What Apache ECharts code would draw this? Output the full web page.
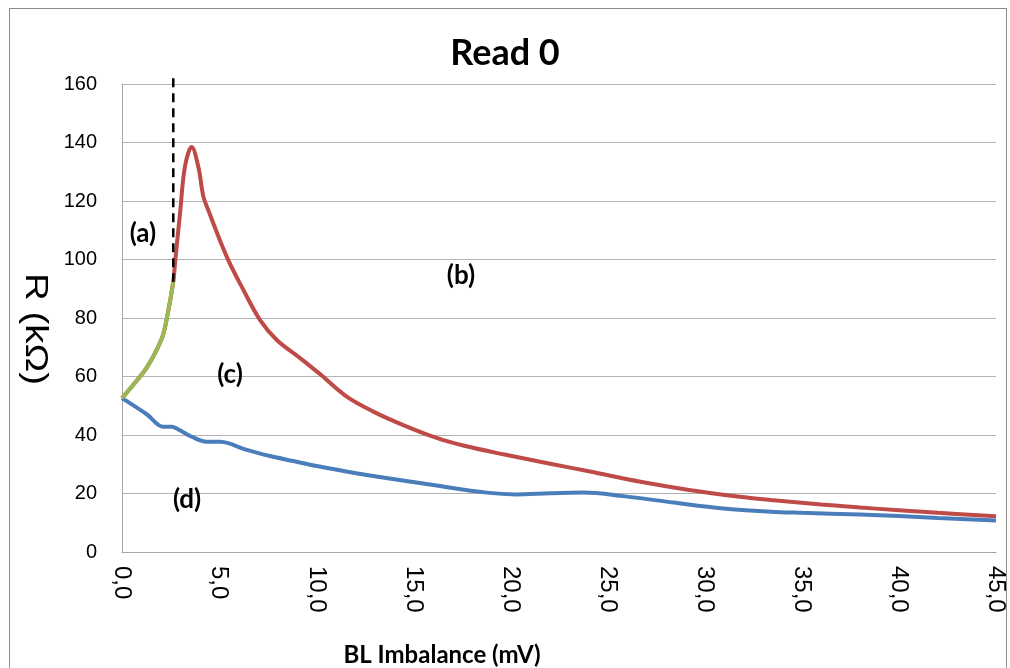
<!DOCTYPE html>
<html><head><meta charset="utf-8">
<script src="https://cdn.jsdelivr.net/npm/echarts@6/dist/echarts.min.js"></script>
<style>html,body{margin:0;padding:0;background:#fff}#c{width:1010px;height:668px}</style>
</head><body><div id="c"></div>
<script>
// x ticks
var xTicks = [0, 5, 10, 15, 20, 25, 30, 35, 40, 45];
var xTickLabels = ['0,0','5,0','10,0','15,0','20,0','25,0','30,0','35,0','40,0','45,0'];
// red curve (b)
var redX = [0, 0.57, 1.29, 2.06, 2.32, 2.64, 2.73, 2.99, 3.24, 3.59, 3.93, 4.19, 4.44, 5.39, 6.25, 7.11, 7.97, 9.17, 10.2, 11.57, 12.94, 14.48, 16.2, 17.57, 19.63, 22.04, 24.1, 26.7, 29.2, 31.8, 33.4, 36.0, 38.0, 40.0, 42.0, 45.0];
var redY = [52.6, 57.1, 63.2, 73.2, 80.3, 92.4, 98.8, 115.9, 131.7, 138.5, 131.7, 121.5, 116.9, 101.0, 89.6, 79.3, 72.5, 66.3, 60.8, 53.1, 48.0, 43.4, 39.0, 36.4, 33.4, 30.2, 27.5, 24.0, 21.2, 18.9, 17.8, 16.2, 15.2, 14.3, 13.4, 12.2];
// green curve (a)
var greenX = [0, 0.57, 1.29, 2.06, 2.32, 2.64];
var greenY = [52.6, 57.1, 63.2, 73.2, 80.3, 92.4];
// blue curve (d)
var blueX = [0, 1.27, 2.13, 2.56, 2.9, 3.59, 4.36, 5.05, 5.47, 6.42, 7.62, 8.82, 10.03, 12.6, 16.03, 18.78, 20.3, 22.04, 23.75, 25.8, 28.4, 30.96, 33.4, 35.0, 38.0, 40.0, 42.0, 45.0];
var blueY = [52.6, 47.1, 42.8, 42.8, 41.9, 39.4, 37.7, 37.7, 37.2, 34.9, 32.8, 31.1, 29.4, 26.3, 22.9, 20.3, 19.7, 20.1, 20.3, 19.1, 16.9, 14.9, 13.8, 13.4, 12.8, 12.3, 11.6, 10.8];
// dashed threshold line
var dashX = [2.64, 2.64];
var dashY = [162, 92.4];
// region labels
var regionNames = ['(a)', '(b)', '(c)', '(d)'];
var regionX = [1.08, 17.45, 5.56, 3.35];
var regionY = [108.7, 94.4, 60.5, 17.8];

function zip(xs, ys){ return xs.map(function(x,i){ return [x, ys[i]]; }); }

var chart = echarts.init(document.getElementById('c'), null, {renderer:'canvas'});
chart.setOption({
  animation: false,
  backgroundColor: '#fff',
  title: {
    text: 'Read 0', left: 'center', top: 30,
    textStyle: {fontFamily: 'Lato', fontWeight: 'bold', fontSize: 36, color: '#000'}
  },
  graphic: [
    {type:'rect', shape:{x:9.5, y:8.5, width:997, height:700}, style:{fill:'none', stroke:'#8c8c8c', lineWidth:1}, silent:true},
    {type:'text', x:442, y:655, style:{text:'BL Imbalance (mV)', font:'bold 24px Lato', fill:'#000', align:'center', verticalAlign:'middle'}},
    {type:'text', x:35, y:329, rotation:-Math.PI/2, scaleX:1.2, scaleY:1,
     style:{text:'R (kΩ)', font:'32px "Liberation Sans"', fill:'#000', align:'center', verticalAlign:'middle'}}
  ],
  grid: {left: 122, right: 14, top: 84, bottom: 116, containLabel: false, outerBoundsMode: 'none'},
  xAxis: {
    type: 'value', min: 0, max: 45, interval: 5,
    axisLine: {show: true, lineStyle: {color: '#a6a6a6', width: 1}},
    axisTick: {show: false},
    splitLine: {show: false},
    axisLabel: {
      rotate: -90, margin: 14, fontFamily: 'Liberation Sans', fontSize: 24, color: '#000',
      formatter: function(v){ var i = xTicks.indexOf(v); return i >= 0 ? xTickLabels[i] : ''; }
    }
  },
  yAxis: {
    type: 'value', min: 0, max: 160, interval: 20,
    axisLine: {show: true, lineStyle: {color: '#a6a6a6', width: 1}},
    axisTick: {show: false},
    splitLine: {show: true, lineStyle: {color: '#b3b3b3', width: 1}},
    axisLabel: {margin: 25, fontFamily: 'Liberation Sans', fontSize: 20, color: '#000'}
  },
  series: [
    {type:'line', name:'d', data: zip(blueX, blueY), smooth: 0.35, showSymbol:false,
     lineStyle:{color:'#4a7ebb', width:4}, z:2},
    {type:'line', name:'b', data: zip(redX, redY), smooth: 0.35, showSymbol:false,
     lineStyle:{color:'#be4b48', width:4}, z:3},
    {type:'line', name:'a', data: zip(greenX, greenY), smooth: 0.3, showSymbol:false,
     lineStyle:{color:'#98b954', width:4}, z:4},
    {type:'line', name:'th', data: zip(dashX, dashY), showSymbol:false, clip:false,
     lineStyle:{color:'#000', width:2.5, type:[9,6]}, z:5},
    {type:'scatter', name:'labels', symbolSize:0, z:6, itemStyle:{opacity:1},
     data: regionNames.map(function(n,i){ return {value:[regionX[i], regionY[i]], name:n}; }),
     label:{show:true, position:'inside', opacity:1, formatter:function(p){return p.name;},
            fontFamily:'Lato', fontWeight:'bold', fontSize:26, color:'#000'}}
  ]
});
</script></body></html>
